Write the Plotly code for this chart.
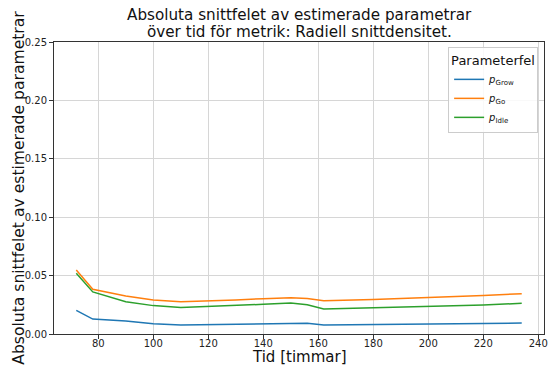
import plotly.graph_objects as go

# Time points (hours) and mean absolute parameter errors
tid = [72, 78, 90, 100, 110, 120, 130, 140, 150, 156, 162, 180, 200, 220, 234]
p_grow = [0.0203, 0.0128, 0.0111, 0.0088, 0.0077, 0.0080, 0.0083, 0.0086, 0.0088, 0.0091, 0.0077, 0.0080, 0.0086, 0.0090, 0.0094]
p_go = [0.0548, 0.0383, 0.0325, 0.0291, 0.0277, 0.0283, 0.0292, 0.0302, 0.0311, 0.0303, 0.0285, 0.0296, 0.0311, 0.0330, 0.0345]
p_idle = [0.0520, 0.0360, 0.0277, 0.0243, 0.0226, 0.0234, 0.0244, 0.0254, 0.0265, 0.0251, 0.0214, 0.0223, 0.0234, 0.0248, 0.0263]

x_ticks = [80, 100, 120, 140, 160, 180, 200, 220, 240]
y_ticks = [0.00, 0.05, 0.10, 0.15, 0.20, 0.25]

series = [
    ("<i>p</i><sub>Grow</sub>", p_grow, "#1f77b4"),
    ("<i>p</i><sub>Go</sub>", p_go, "#ff7f0e"),
    ("<i>p</i><sub>Idle</sub>", p_idle, "#2ca02c"),
]

W, H = 551, 367
L, R, T, B = 54, 3, 42, 33

fig = go.Figure()
for name, vals, color in series:
    fig.add_trace(go.Scatter(x=tid, y=vals, mode="lines", name=name,
                             line=dict(color=color, width=1.5)))

font = "DejaVu Sans, sans-serif"
axis_common = dict(
    showline=True, linecolor="#333333", linewidth=1, mirror=True,
    ticks="outside", ticklen=4, tickcolor="#333333",
    showgrid=True, gridcolor="#d6d6d6", gridwidth=1,
    zeroline=False, tickfont=dict(family=font, size=10, color="#222222"),
    ticklabeloverflow="allow",
)

span = max(tid) - min(tid)

def px_y(py):
    # convert a pixel row (from the top) into paper y for annotations
    return (H - B - py) / (H - T - B)

def px_x(px):
    return (px - L) / (W - L - R)

annotations = [
    dict(text="Absoluta snittfelet av estimerade parametrar", x=0.5, y=px_y(15),
         xref="paper", yref="paper", showarrow=False, xanchor="center", yanchor="middle",
         font=dict(family=font, size=15.2, color="#111111")),
    dict(text="över tid för metrik: Radiell snittdensitet.", x=0.5, y=px_y(32),
         xref="paper", yref="paper", showarrow=False, xanchor="center", yanchor="middle",
         font=dict(family=font, size=15.2, color="#111111")),
    dict(text="Tid [timmar]", x=0.5, y=px_y(357), xref="paper", yref="paper",
         showarrow=False, xanchor="center", yanchor="middle",
         font=dict(family=font, size=15, color="#111111")),
    dict(text="Absoluta snittfelet av estimerade parametrar", x=px_x(18), y=px_y(187.5),
         xref="paper", yref="paper", showarrow=False, xanchor="center", yanchor="middle",
         textangle=-90, font=dict(family=font, size=15.6, color="#111111")),
]

fig.update_layout(
    width=W, height=H,
    margin=dict(l=L, r=R, t=T, b=B),
    plot_bgcolor="white", paper_bgcolor="white",
    xaxis=dict(axis_common, range=[min(tid) - 0.05 * span, max(tid) + 0.05 * span],
               tickvals=x_ticks, ticklabelstandoff=-4),
    yaxis=dict(axis_common, range=[0, 0.25], tickvals=y_ticks, tickformat=".2f"),
    annotations=annotations,
    legend=dict(x=0.988, y=0.983, xanchor="right", yanchor="top",
                bgcolor="rgba(255,255,255,0.85)", bordercolor="#cccccc", borderwidth=1,
                title=dict(text="Parameterfel", font=dict(family=font, size=13, color="#111111")),
                font=dict(family=font, size=10, color="#111111"),
                itemwidth=30, tracegroupgap=0),
    showlegend=True,
)

fig.write_html("out.html")
